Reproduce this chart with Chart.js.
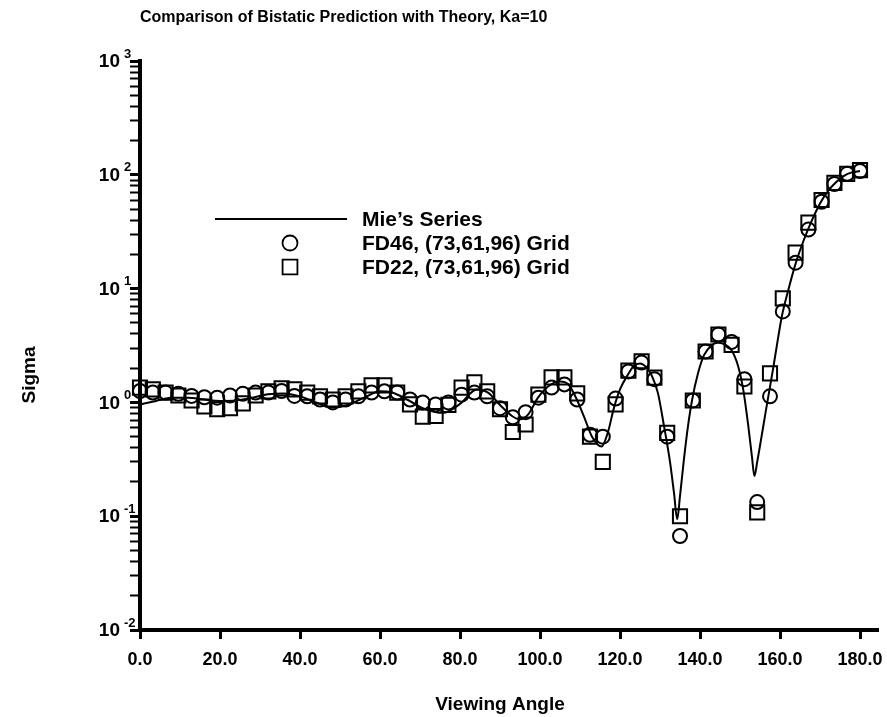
<!DOCTYPE html>
<html>
<head>
<meta charset="utf-8">
<script src="https://cdn.jsdelivr.net/npm/chart.js@4/dist/chart.umd.min.js"></script>
<style>
    html, body { margin: 0; padding: 0; background: #fff; }
</style>
</head>
<body>
<canvas id="grafico" width="887" height="717"></canvas>
<script>
const angulos = [0, 3.2, 6.4, 9.6, 12.9, 16.1, 19.3, 22.5, 25.7, 28.9, 32.1, 35.4, 38.6, 41.8, 45, 48.2,
    51.4, 54.6, 57.9, 61.1, 64.3, 67.5, 70.7, 73.9, 77.1, 80.4, 83.6, 86.8, 90, 93.2, 96.4, 99.6, 102.9,
    106.1, 109.3, 112.5, 115.7, 118.9, 122.1, 125.4, 128.6, 131.8, 135, 138.2, 141.4, 144.6, 147.9,
    151.1, 154.3, 157.5, 160.7, 163.9, 167.1, 170.4, 173.6, 176.8, 180];

const fd46 = [1.26, 1.22, 1.22, 1.19, 1.14, 1.11, 1.10, 1.15, 1.19, 1.22,
    1.22, 1.26, 1.14, 1.13, 1.06, 1.00, 1.06, 1.13, 1.22, 1.25,
    1.22, 1.06, 1.00, 0.96, 1.00, 1.17, 1.22, 1.13, 0.89, 0.74,
    0.82, 1.10, 1.35, 1.44, 1.06, 0.52, 0.50, 1.08, 1.87, 2.24,
    1.60, 0.50, 0.067, 1.04, 2.8, 3.95, 3.4, 1.6, 0.133, 1.13,
    6.3, 16.9, 33, 58, 83, 102, 108];

const fd22 = [1.35, 1.3, 1.22, 1.15, 1.04, 0.92, 0.87, 0.89, 0.98, 1.15,
    1.25, 1.33, 1.3, 1.22, 1.13, 1.06, 1.13, 1.25, 1.41, 1.41,
    1.22, 0.96, 0.75, 0.76, 0.95, 1.35, 1.5, 1.25, 0.87, 0.55,
    0.64, 1.17, 1.66, 1.66, 1.2, 0.5, 0.3, 0.96, 1.9, 2.3,
    1.65, 0.54, 0.10, 1.04, 2.8, 3.95, 3.2, 1.38, 0.108, 1.8,
    8.2, 20.7, 38, 60, 85, 102, 110];

const mieAngulos = [0, 4, 8, 12, 16, 20, 24, 28, 32, 36, 40, 44, 48, 52, 56, 60, 63, 67, 71, 75.8,
    80, 84.2, 87, 90, 93, 95, 97, 99.5, 102, 105, 107, 109, 111, 113, 115.4, 117, 118.5, 120, 122, 123.5,
    125, 126.5, 128, 129.5, 131, 132.5, 133.5, 134.3, 135, 136, 137, 138, 139.5, 141, 143, 144.5, 146,
    147.8, 149.5, 150.8, 152, 153, 153.6, 154.3, 155.3, 156.3, 157.3, 158.3, 159.3, 160.5,
    162, 164, 166, 168, 170, 172, 174, 176, 178, 180];
const mieValores = [0.96, 1.03, 1.1, 1.1, 1.06, 1.03, 1.04, 1.1, 1.18, 1.2, 1.13, 1.0, 0.9, 0.95, 1.1, 1.25,
    1.22, 1.05, 0.88, 0.81, 0.97, 1.3, 1.22, 0.95, 0.76, 0.71, 0.78, 1.1, 1.38, 1.53, 1.45, 1.1, 0.75, 0.5,
    0.41, 0.55, 0.9, 1.3, 1.76, 2.1, 2.2, 2.05, 1.7, 1.2, 0.62, 0.3, 0.16, 0.094, 0.15, 0.32, 0.62, 1.04,
    1.8, 2.6, 3.2, 3.35, 3.25, 2.9, 2.1, 1.3, 0.65, 0.33, 0.225, 0.3, 0.48, 0.78, 1.25, 2.0, 3.3, 5.8,
    9.5, 17, 27, 40, 56, 72, 86, 98, 105, 108];

const ticksX = [0, 20, 40, 60, 80, 100, 120, 140, 160, 180];
const expoentesY = [-2, -1, 0, 1, 2, 3];

const titulo = 'Comparison of Bistatic Prediction with Theory, Ka=10';
const legendas = ["Mie\u2019s Series", 'FD46, (73,61,96) Grid', 'FD22, (73,61,96) Grid'];

const fonte = "'Liberation Sans', Arial, Helvetica, sans-serif";

function pares(xs, ys) {
    return xs.map((x, i) => ({ x: x, y: ys[i] }));
}

// ticks menores do eixo log: 1..9 x 10^n
function ticksLog() {
    const lista = [];
    for (let n = -2; n < 3; n++) {
        for (let m = 1; m < 10; m++) lista.push({ value: m * Math.pow(10, n), major: m === 1 });
    }
    lista.push({ value: 1000, major: true });
    return lista;
}

// textos: titulo, rotulos 10^n, titulos dos eixos e legenda
const textos = {
    id: 'textos',
    afterDraw(chart) {
        const ctx = chart.ctx;
        const y = chart.scales.y;
        ctx.save();
        ctx.fillStyle = '#000';
        ctx.textBaseline = 'middle';

        ctx.font = 'bold 16px ' + fonte;
        ctx.textAlign = 'left';
        ctx.fillText(titulo, 140, 18);

        expoentesY.forEach(n => {
            const py = y.getPixelForValue(Math.pow(10, n));
            ctx.font = 'bold 19px ' + fonte;
            ctx.textAlign = 'right';
            ctx.fillText('10', 120, py + 1);
            ctx.font = 'bold 13px ' + fonte;
            ctx.textAlign = 'left';
            ctx.fillText(String(n), 124, py - 7);
        });

        ctx.font = 'bold 19px ' + fonte;
        ctx.textAlign = 'center';
        ctx.fillText('Viewing Angle', 500, 705);
        ctx.save();
        ctx.translate(30, 375);
        ctx.rotate(-Math.PI / 2);
        ctx.fillText('Sigma', 0, 0);
        ctx.restore();

        // legenda
        ctx.strokeStyle = '#000';
        ctx.lineWidth = 2;
        ctx.beginPath();
        ctx.moveTo(215, 219);
        ctx.lineTo(347, 219);
        ctx.stroke();
        const estilos = [null, 'circle', 'rect'];
        const raios = [0, 7.5, 10.5];
        legendas.forEach((txt, i) => {
            const ly = 219 + i * 24;
            if (estilos[i]) {
                ctx.fillStyle = 'rgba(0,0,0,0)';
                ctx.strokeStyle = '#000';
                ctx.lineWidth = 1.8;
                Chart.helpers.drawPoint(ctx, { pointStyle: estilos[i], radius: raios[i], borderWidth: 1.8 }, 290, ly);
            }
            ctx.font = 'bold 21px ' + fonte;
            ctx.textAlign = 'left';
            ctx.fillStyle = '#000';
            ctx.fillText(txt, 362, ly + 1);
        });
        ctx.restore();
    }
};

function semPadding(s) {
    s.paddingLeft = 0;
    s.paddingRight = 0;
    s.paddingTop = 0;
    s.paddingBottom = 0;
}

const ctxGrafico = document.getElementById('grafico').getContext('2d');
const grafico = new Chart(ctxGrafico, {
    type: 'scatter',
    data: {
        datasets: [
            {
                label: legendas[0],
                type: 'line',
                data: pares(mieAngulos, mieValores),
                borderColor: '#000',
                borderWidth: 2,
                pointRadius: 0,
                cubicInterpolationMode: 'monotone',
                clip: false
            },
            {
                label: legendas[1],
                data: pares(angulos, fd46),
                pointStyle: 'circle',
                pointRadius: 7,
                borderColor: '#000',
                backgroundColor: 'rgba(0,0,0,0)',
                borderWidth: 2,
                clip: false
            },
            {
                label: legendas[2],
                data: pares(angulos, fd22),
                pointStyle: 'rect',
                pointRadius: 10,
                borderColor: '#000',
                backgroundColor: 'rgba(0,0,0,0)',
                borderWidth: 2,
                clip: false
            }
        ]
    },
    options: {
        responsive: false,
        animation: false,
        devicePixelRatio: 1,
        layout: { autoPadding: false, padding: { left: 0, right: 9, top: 61, bottom: 0 } },
        plugins: {
            legend: { display: false },
            tooltip: { enabled: false }
        },
        scales: {
            x: {
                type: 'linear',
                min: 0,
                max: 184.5,
                afterBuildTicks: s => { s.ticks = ticksX.map(v => ({ value: v })); },
                afterFit: s => { s.height = 87; semPadding(s); },
                border: { display: true, color: '#000', width: 4 },
                grid: { drawOnChartArea: false, drawTicks: true, tickLength: 9, tickWidth: 3, tickColor: '#000' },
                ticks: {
                    color: '#000',
                    padding: 10,
                    font: { family: fonte, size: 18, weight: 'bold' },
                    maxRotation: 0,
                    callback: v => Number(v).toFixed(1)
                }
            },
            y: {
                type: 'logarithmic',
                min: 0.01,
                max: 1000,
                afterBuildTicks: s => { s.ticks = ticksLog(); },
                afterFit: s => { s.width = 140; semPadding(s); },
                border: { display: true, color: '#000', width: 4 },
                grid: {
                    drawOnChartArea: false,
                    drawTicks: true,
                    tickLength: 10,
                    tickColor: '#000',
                    tickWidth: c => (c.tick && c.tick.major ? 3 : 2)
                },
                ticks: { display: false }
            }
        }
    },
    plugins: [textos]
});
</script>
</body>
</html>
